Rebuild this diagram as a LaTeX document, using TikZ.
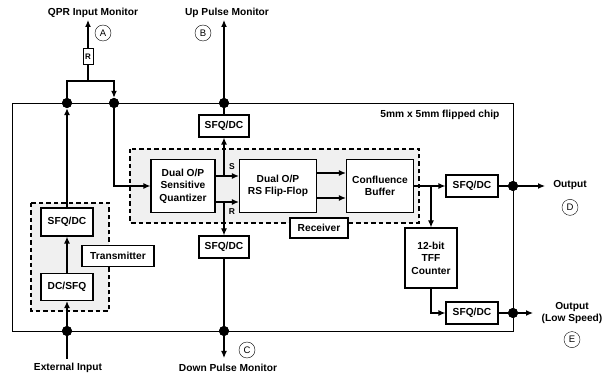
\documentclass[tikz,border=0pt]{standalone}
\usepackage{fontspec}
\setmainfont{Liberation Sans}
\usetikzlibrary{arrows.meta, positioning}

\begin{document}
\begin{tikzpicture}[x=1pt, y=-1pt,
    font=\fontsize{10.2}{12.5}\selectfont\bfseries,
    blk/.style={draw, line width=1.2pt, fill=white, align=center, inner sep=2pt},
    sfq/.style={blk, minimum width=50pt, minimum height=22pt},
    grp/.style={draw, line width=1.1pt, dashed, dash pattern=on 4.5pt off 3pt, fill=black!6},
    mon/.style={circle, draw, thin, minimum size=16pt, inner sep=0pt, font=\fontsize{9.5}{10}\selectfont},
    jn/.style={circle, fill, inner sep=0pt, minimum size=10pt},
    sig/.style={draw, line width=1.2pt, -{Latex[length=7pt, width=6pt]}},
    wire/.style={draw, line width=1.2pt}
]
    \useasboundingbox (0,0) rectangle (603,374);

    % Chip outline and groups
    \draw[line width=0.9pt] (12,103) rectangle (513,331);
    \node[anchor=east] (chiplbl) at (503,115) {5mm x 5mm flipped chip};
    \draw[grp] (130,149) rectangle (419,223);
    \draw[grp] (31,203) rectangle (109,311);

    % Receiver
    \node[blk, minimum width=64pt, minimum height=53pt] (quant) at (183,186) {Dual O/P\\Sensitive\\Quantizer};
    \node[blk, minimum width=77pt, minimum height=53pt] (rsff) at (278,186) {Dual O/P\\RS Flip-Flop};
    \node[blk, minimum width=67pt, minimum height=53pt] (conf) at (380,186) {Confluence\\Buffer};
    \node[blk, minimum width=58pt, minimum height=20pt] (rxlbl) at (319,228) {Receiver};

    % Transmitter
    \node[sfq, minimum width=52pt, minimum height=28pt] (txconv) at (67,222) {SFQ/DC};
    \node[sfq, minimum width=52pt, minimum height=27pt] (dcsfq) at (67,287) {DC/SFQ};
    \node[blk, minimum width=72pt, minimum height=21pt] (txlbl) at (118,256) {Transmitter};

    % Monitors and outputs
    \node[sfq] (upconv) at (224,126) {SFQ/DC};
    \node[sfq] (dnconv) at (224,247) {SFQ/DC};
    \node[sfq, minimum width=52pt] (sfqout) at (472,186) {SFQ/DC};
    \node[blk, minimum width=52pt, minimum height=60pt] (tff) at (431,258) {12-bit\\TFF\\Counter};
    \node[sfq, minimum width=52pt] (sfqlow) at (472,313) {SFQ/DC};
    \node[draw, line width=1pt, fill=white, minimum width=10pt, minimum height=16pt, inner sep=0pt,
        font=\fontsize{8}{8}\selectfont\bfseries] (res) at (88,57) {R};

    % Pads on the chip edge
    \node[jn] (jin) at (67,103) {};
    \node[jn] (jmon) at (114,103) {};
    \node[jn] (jup) at (224,103) {};
    \node[jn] (jext) at (67,331) {};
    \node[jn] (jdn) at (224,331) {};
    \node[jn] (jout) at (513,186) {};
    \node[jn] (jlow) at (513,313) {};

    \coordinate (tap) at (88,81);
    \coordinate (qprtop) at (88,20);
    \coordinate (uptop) at (224,20);
    \coordinate (dnend) at (224,358);
    \coordinate (extin) at (67,359);
    \coordinate (stap) at (224,176);
    \coordinate (rtap) at (224,202);
    \coordinate (ctap) at (431,186);
    \coordinate (outend) at (545,186);
    \coordinate (lowend) at (533,313);

    % Labels
    \node (qprlbl) at (93,13) {QPR Input Monitor};
    \node (uplbl) at (227,13) {Up Pulse Monitor};
    \node (extlbl) at (68,368) {External Input};
    \node (dnlbl) at (228,368) {Down Pulse Monitor};
    \node (outlbl) at (570,185) {Output};
    \node[align=center] (lowlbl) at (572,313) {Output\\(Low Speed)};
    \node[mon] (monA) at (103,33) {A};
    \node[mon] (monB) at (203,33) {B};
    \node[mon] (monC) at (247,350) {C};
    \node[mon, below=6pt of outlbl] (monD) {D};
    \node[mon, below=4pt of lowlbl] (monE) {E};
    \node[font=\fontsize{8.5}{9}\selectfont\bfseries] (slbl) at (232,167) {S};
    \node[font=\fontsize{8.5}{9}\selectfont\bfseries] (rlbl) at (232,212) {R};

    % Input path
    \draw[sig] (extin) -- (dcsfq);
    \draw[sig] (dcsfq) -- (txconv);
    \draw[sig] (txconv) -- (jin);
    \draw[wire] (jin) |- (tap);
    \draw[sig] (tap) -| (jmon);
    \draw[wire] (tap) -- (res);
    \draw[sig] (res) -- (qprtop);
    \draw[sig] (jmon) |- (quant);

    % S and R pulses
    \draw[sig] (quant.east |- stap) -- (rsff.west |- stap);
    \draw[sig] (quant.east |- rtap) -- (rsff.west |- rtap);
    \draw[sig] (stap) -- (upconv);
    \draw[sig] (upconv) -- (uptop);
    \draw[sig] (rtap) -- (dnconv);
    \draw[sig] (dnconv) -- (dnend);
    \draw[sig] ([yshift=13pt]rsff.east) -- ([yshift=13pt]conf.west);
    \draw[sig] ([yshift=-12pt]rsff.east) -- ([yshift=-12pt]conf.west);

    % Output paths
    \draw[sig] (conf) -- (sfqout);
    \draw[sig] (ctap) -- (tff);
    \draw[wire] (sfqout) -- (jout);
    \draw[sig] (jout) -- (outend);
    \draw[sig] (tff) |- (sfqlow);
    \draw[wire] (sfqlow) -- (jlow);
    \draw[sig] (jlow) -- (lowend);

    % pads drawn again over the wires
    \foreach \j in {jin, jmon, jup, jext, jdn, jout, jlow}
        \fill (\j) circle (5pt);
\end{tikzpicture}
\end{document}
